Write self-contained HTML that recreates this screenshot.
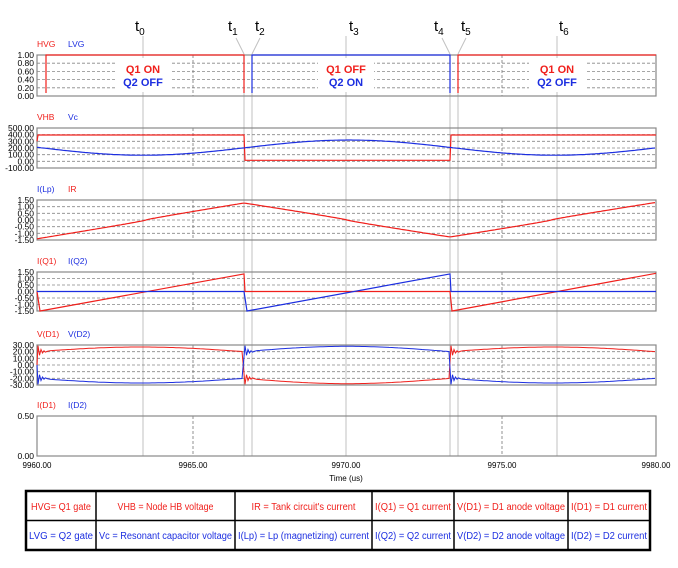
<!DOCTYPE html>
<html><head><meta charset="utf-8"><style>
body{margin:0;background:#fff;width:678px;height:563px;overflow:hidden}
svg text{font-family:"Liberation Sans",Arial,sans-serif}
</style></head><body>
<svg id="s" width="678" height="563" xmlns="http://www.w3.org/2000/svg"></svg>
<script>
const s=document.getElementById('s');let h='';
const X0=37,X1=656;
const R='#f0201c',B='#1c2ee0';
const panels=[
 {top:55,bot:96,ticks:['1.00','0.80','0.60','0.40','0.20','0.00'],l1:'HVG',l2:'LVG',c1:R,c2:B},
 {top:128,bot:168,ticks:['500.00','400.00','300.00','200.00','100.00','0.00','-100.00'],l1:'VHB',l2:'Vc',c1:R,c2:B},
 {top:200,bot:240,ticks:['1.50','1.00','0.50','0.00','-0.50','-1.00','-1.50'],l1:'I(Lp)',l2:'IR',c1:B,c2:R},
 {top:272,bot:311,ticks:['1.50','1.00','0.50','0.00','-0.50','-1.00','-1.50'],l1:'I(Q1)',l2:'I(Q2)',c1:R,c2:B},
 {top:345,bot:385,ticks:['30.00','20.00','10.00','0.00','-10.00','-20.00','-30.00'],l1:'V(D1)',l2:'V(D2)',c1:R,c2:B},
 {top:416,bot:456,ticks:['0.50','0.00'],l1:'I(D1)',l2:'I(D2)',c1:R,c2:B}];
const vl=[143,244,252,346,450,458,557];
vl.forEach((x,i)=>{h+=`<line x1="${x}" y1="${[0,3,6].includes(i)?36:55}" x2="${x}" y2="456" stroke="#c0c0c0" stroke-width="1"/>`;});
[[244,236],[252,260],[450,442],[458,466]].forEach(([x,lx])=>{h+=`<line x1="${x}" y1="54" x2="${lx}" y2="38" stroke="#c0c0c0"/>`;});
const tl=[[143,'0'],[236,'1'],[263,'2'],[357,'3'],[442,'4'],[469,'5'],[567,'6']];
tl.forEach(([x,n])=>{h+=`<text x="${x-8}" y="31" font-size="15" fill="#000">t<tspan font-size="10" dy="4">${n}</tspan></text>`;});
panels.forEach((p,i)=>{
 const n=p.ticks.length;
 for(let k=0;k<n;k++){const y=p.top+(p.bot-p.top)*k/(n-1);
  h+=`<text x="34" y="${y+3}" font-size="8.5" text-anchor="end" fill="#000">${p.ticks[k]}</text>`;
  if(k>0&&k<n-1)h+=`<line x1="${X0}" y1="${y}" x2="${X1}" y2="${y}" stroke="#888" stroke-dasharray="3,2" stroke-width="0.8"/>`;}
 [193,502].forEach(x=>h+=`<line x1="${x}" y1="${p.top}" x2="${x}" y2="${p.bot}" stroke="#777" stroke-dasharray="3,2" stroke-width="0.8"/>`);
 h+=`<rect x="${X0}" y="${p.top}" width="${X1-X0}" height="${p.bot-p.top}" fill="none" stroke="#888" stroke-width="1.2"/>`;
 h+=`<text x="37" y="${p.top-8}" font-size="8.5" fill="${p.c1}">${p.l1}</text><text x="68" y="${p.top-8}" font-size="8.5" fill="${p.c2}">${p.l2}</text>`;
});
[[143,'Q1 ON','Q2 OFF',R,B],[346,'Q1 OFF','Q2 ON',R,B],[557,'Q1 ON','Q2 OFF',R,B]].forEach(([x,a,b,c1,c2])=>{
 h+=`<rect x="${x-28}" y="58" width="56" height="34" fill="#fff"/>`;
 h+=`<text x="${x}" y="73" font-size="11" font-weight="bold" text-anchor="middle" fill="${c1}">${a}</text>`;
 h+=`<text x="${x}" y="86" font-size="11" font-weight="bold" text-anchor="middle" fill="${c2}">${b}</text>`;});
function path(pts,c,w){return `<polyline points="${pts.map(p=>p[0].toFixed(1)+','+p[1].toFixed(1)).join(' ')}" fill="none" stroke="${c}" stroke-width="${w||1.2}"/>`;}
h+=path([[46,93],[46,55],[244,55],[244,93]],R);
h+=path([[458,93],[458,55],[656,55]],R);
h+=path([[252,93],[252,55],[450,55],[450,93]],B);
const y2=v=>160.3-v*0.0633;
h+=path([[37,y2(300)],[38,y2(400)],[244,y2(400)],[245,y2(0)],[450,y2(0)],[451,y2(400)],[656,y2(400)]],R);
let vc=[];for(let x=37;x<=656;x+=2){vc.push([x,y2(200-120*Math.cos((x-143)/206*Math.PI))]);}
h+=path(vc,B);
const y3=v=>220-v*13.33;
let ir=[];for(let x=37;x<=656;x+=2){let v;
 if(x<=244)v=-1.5+2.85*(x-37)/207;else if(x<=450)v=1.35-2.7*(x-244)/206;else v=-1.35+2.75*(x-450)/206;
 v=v*0.85+0.15*Math.sign(v)*Math.sqrt(Math.abs(v)*1.5)*0.6;
 ir.push([x,y3(v)]);}
h+=path(ir,R);
const y4=v=>291.5-v*13;
h+=path([[37,y4(0)],[40,y4(-1.5)],[244,y4(1.35)],[245,y4(0)],[450,y4(0)],[452,y4(-1.5)],[656,y4(1.4)]],R);
h+=path([[37,y4(0)],[244,y4(0)],[247,y4(-1.5)],[450,y4(1.35)],[451,y4(0)],[656,y4(0)]],B);
const y5=v=>365-v*0.667;
function dv(sign){let pts=[[37,y5(0)]];
 const ring=(x0,base,s)=>{for(let k=0;k<7;k++)pts.push([x0+k*1.5,y5(base+s*9*Math.exp(-k/2)*(k%2?-1:1))]);};
 ring(38,20*sign,sign);
 for(let x=50;x<=244;x+=3)pts.push([x,y5(sign*(20+7*Math.sin((x-37)/207*Math.PI)))]);
 ring(245,-20*sign,-sign);
 for(let x=257;x<=450;x+=3)pts.push([x,y5(-sign*(20+8*Math.sin((x-244)/206*Math.PI)))]);
 ring(451,20*sign,sign);
 for(let x=463;x<=656;x+=3)pts.push([x,y5(sign*(20+7*Math.sin((x-450)/206*Math.PI)))]);
 return pts;}
h+=path(dv(1),R,1);h+=path(dv(-1),B,1);
[[37,'9960.00'],[193,'9965.00'],[346,'9970.00'],[502,'9975.00'],[656,'9980.00']].forEach(([x,t])=>h+=`<text x="${x}" y="468" font-size="8" text-anchor="middle" fill="#000">${t}</text>`);
h+=`<text x="346" y="481" font-size="8" text-anchor="middle" fill="#000">Time (us)</text>`;
const cols=[26,96,235,372,454,568,650];
h+=`<rect x="26" y="491" width="624" height="59" fill="#fff" stroke="#000" stroke-width="2.5"/>`;
h+=`<line x1="26" y1="520.5" x2="650" y2="520.5" stroke="#000" stroke-width="1.5"/>`;
cols.slice(1,-1).forEach(x=>h+=`<line x1="${x}" y1="491" x2="${x}" y2="550" stroke="#000" stroke-width="1.5"/>`);
const r1=['HVG= Q1 gate','VHB = Node HB voltage',"IR = Tank circuit's current",'I(Q1) = Q1 current','V(D1) = D1 anode voltage','I(D1) = D1 current'];
const r2=['LVG = Q2 gate','Vc = Resonant capacitor voltage','I(Lp) = Lp (magnetizing) current','I(Q2) = Q2 current','V(D2) = D2 anode voltage','I(D2) = D2 current'];
const w1=[60,96,104,76,108,76];
for(let i=0;i<6;i++){const cx=(cols[i]+cols[i+1])/2;const cw=cols[i+1]-cols[i]-6;
 h+=`<text x="${cx}" y="510" font-size="10" text-anchor="middle" fill="${R}" textLength="${Math.min(cw,w1[i])}" lengthAdjust="spacingAndGlyphs">${r1[i]}</text>`;
 h+=`<text x="${cx}" y="539" font-size="10" text-anchor="middle" fill="${B}" textLength="${cw}" lengthAdjust="spacingAndGlyphs">${r2[i]}</text>`;}
s.innerHTML=h;
</script>
</body></html>
